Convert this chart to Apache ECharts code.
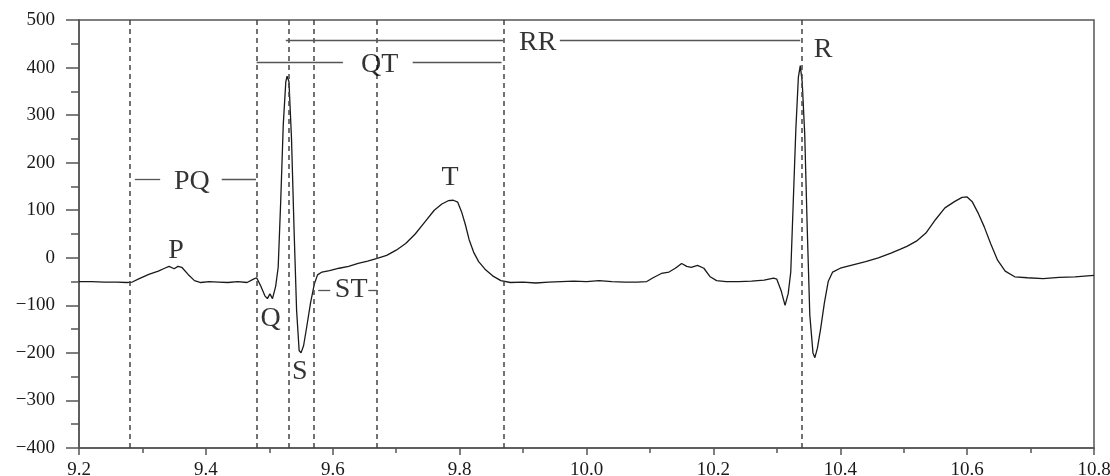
<!DOCTYPE html>
<html>
<head>
<meta charset="utf-8">
<script src="https://cdn.jsdelivr.net/npm/echarts@6/dist/echarts.min.js"></script>
<style>
  html, body { margin: 0; padding: 0; background: #fff; }
  #ecg { width: 1110px; height: 476px; }
</style>
</head>
<body>
<div id="ecg"></div>
<script>
// time (s) / amplitude pairs
var ecgTrace = [
  [9.200,-50],[9.220,-50],[9.240,-51],[9.260,-51],[9.275,-52],[9.284,-51],
  [9.295,-44],[9.310,-35],[9.325,-28],[9.335,-22],[9.342,-18],[9.350,-23],
  [9.356,-18],[9.362,-20],[9.372,-35],[9.382,-48],[9.392,-52],[9.405,-50],
  [9.420,-51],[9.435,-52],[9.450,-50],[9.465,-52],[9.475,-45],[9.480,-42],
  [9.486,-58],[9.493,-80],[9.497,-86],[9.501,-76],[9.505,-86],[9.510,-60],
  [9.514,-20],[9.518,120],[9.522,280],[9.526,370],[9.528,382],[9.531,370],
  [9.535,250],[9.539,60],[9.543,-110],[9.547,-195],[9.550,-200],[9.554,-185],
  [9.559,-145],[9.565,-95],[9.571,-55],[9.576,-36],[9.583,-30],[9.595,-27],
  [9.610,-22],[9.625,-18],[9.640,-12],[9.655,-7],[9.670,-1],[9.685,5],
  [9.700,16],[9.715,30],[9.730,50],[9.745,75],[9.760,100],[9.772,113],
  [9.782,120],[9.790,121],[9.797,117],[9.803,97],[9.809,70],[9.815,38],
  [9.822,12],[9.830,-8],[9.840,-24],[9.852,-38],[9.865,-48],[9.880,-52],
  [9.900,-51],[9.920,-53],[9.940,-51],[9.960,-50],[9.980,-49],[10.000,-50],
  [10.020,-48],[10.040,-50],[10.060,-51],[10.080,-51],[10.095,-50],[10.105,-42],
  [10.118,-33],[10.130,-30],[10.140,-22],[10.150,-12],[10.158,-18],[10.165,-20],
  [10.175,-16],[10.185,-22],[10.195,-40],[10.205,-48],[10.220,-50],[10.240,-50],
  [10.260,-49],[10.280,-47],[10.295,-43],[10.300,-45],[10.307,-70],[10.313,-100],
  [10.318,-75],[10.322,-30],[10.326,120],[10.330,270],[10.334,380],[10.337,404],
  [10.340,370],[10.344,260],[10.348,60],[10.352,-120],[10.357,-200],[10.360,-210],
  [10.364,-190],[10.369,-150],[10.375,-95],[10.381,-50],[10.388,-30],[10.400,-22],
  [10.420,-15],[10.440,-8],[10.460,0],[10.480,10],[10.495,18],[10.505,24],
  [10.520,35],[10.535,52],[10.550,80],[10.565,105],[10.580,118],[10.592,127],
  [10.600,128],[10.608,118],[10.617,95],[10.627,65],[10.637,30],[10.648,-5],
  [10.660,-28],[10.675,-40],[10.695,-42],[10.720,-44],[10.745,-41],[10.770,-40],
  [10.800,-37]
];

// dashed markers (s)
var markerTimes = [9.284, 9.480, 9.526, 9.574, 9.672, 9.868, 10.337];

// interval brackets: [from, to, level]
var intervalSegments = [
  [9.288, 9.328, 165], [9.425, 9.479, 165],      // PQ
  [9.480, 9.616, 411], [9.726, 9.866, 411],      // QT
  [9.526, 9.869, 457], [9.958, 10.337, 457],     // RR
  [9.577, 9.596, -68], [9.656, 9.670, -68]       // ST
];

// text labels: [t, value, text]
var waveLabels = [
  [9.353, 14, 'P'], [9.502, -127, 'Q'], [9.548, -240, 'S'],
  [9.785, 169, 'T'], [10.373, 437, 'R'],
  [9.378, 160, 'PQ'], [9.674, 406, 'QT'], [9.923, 452, 'RR'], [9.629, -68, 'ST']
];

var chart = echarts.init(document.getElementById('ecg'));
var axisColor = '#555';

var option = {
  animation: false,
  grid: {
    left: 79, right: 16, top: 20, bottom: 28,
    outerBoundsMode: 'none',
    show: true, borderColor: axisColor, borderWidth: 1.5, backgroundColor: 'transparent'
  },
  xAxis: {
    type: 'value',
    min: 9.2, max: 10.8, interval: 0.2,
    axisLine: { show: true, onZero: false, lineStyle: { color: axisColor, width: 1.5 } },
    axisTick: { show: true, length: 7, lineStyle: { color: axisColor, width: 1.5 } },
    minorTick: { show: true, splitNumber: 2, length: 5, lineStyle: { color: axisColor, width: 1.5 } },
    splitLine: { show: false },
    axisLabel: {
      margin: 13, color: '#1a1a1a', fontSize: 19, fontFamily: 'Liberation Serif',
      formatter: function (v) { return v.toFixed(1); }
    }
  },
  yAxis: {
    type: 'value',
    min: -400, max: 500, interval: 100,
    axisLine: { show: true, onZero: false, lineStyle: { color: axisColor, width: 1.5 } },
    axisTick: { show: true, length: 13, lineStyle: { color: axisColor, width: 1.5 } },
    minorTick: { show: true, splitNumber: 2, length: 8, lineStyle: { color: axisColor, width: 1.5 } },
    splitLine: { show: false },
    axisLabel: {
      margin: 24, color: '#1a1a1a', fontSize: 19, fontFamily: 'Liberation Serif',
      formatter: function (v) { return String(v).replace('-', '\u2212'); }
    }
  },
  series: [
    {
      type: 'line',
      data: ecgTrace,
      showSymbol: false,
      symbol: 'none',
      lineStyle: { color: '#1a1a1a', width: 1.3 },
      z: 3,
      markLine: {
        silent: true,
        symbol: 'none',
        label: { show: false },
        lineStyle: { color: '#444', width: 1.5, type: [5, 4] },
        data: markerTimes.map(function (t) { return { xAxis: t }; })
      }
    },
    {
      type: 'line',
      data: [],
      markLine: {
        silent: true,
        symbol: 'none',
        label: { show: false },
        lineStyle: { color: '#555', width: 1.3, type: 'solid' },
        data: intervalSegments.map(function (s) {
          return [{ coord: [s[0], s[2]] }, { coord: [s[1], s[2]] }];
        })
      }
    },
    {
      type: 'scatter',
      symbolSize: 1,
      itemStyle: { color: 'rgba(0,0,0,0)' },
      silent: true,
      z: 5,
      data: waveLabels.map(function (l) { return { value: [l[0], l[1]], name: l[2] }; }),
      label: {
        show: true,
        position: 'inside',
        formatter: '{b}',
        color: '#000',
        fontSize: 28,
        fontFamily: 'Liberation Serif'
      }
    }
  ]
};

chart.setOption(option);
</script>
</body>
</html>
